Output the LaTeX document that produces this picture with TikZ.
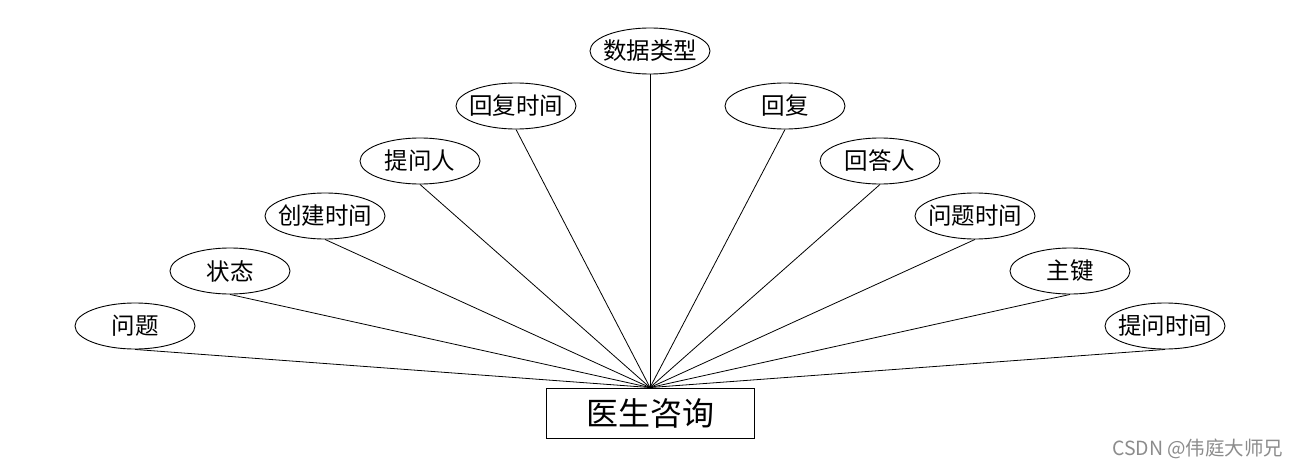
\documentclass[tikz,border=0pt]{standalone}
\usepackage{fontspec}
\setmainfont{Noto Sans CJK SC}
\usetikzlibrary{shapes.geometric}
\newcommand{\zlab}[1]{\makebox[0pt]{#1}}
\begin{document}
\begin{tikzpicture}[x=1pt,y=-1pt,
  attr/.style={draw,line width=0.9pt,ellipse,minimum width=120pt,minimum height=46pt,inner sep=0pt,font=\fontsize{23.5}{23.5}\selectfont},
  ent/.style={draw,line width=0.9pt,rectangle,minimum width=208pt,minimum height=50pt,inner sep=0pt,font=\fontsize{32}{32}\selectfont},
  link/.style={line width=0.8pt}]
\useasboundingbox (0,0) rectangle (1300,468);
\node[ent] (e) at (650,413) {医生咨询};
\node[attr] (a1) at (135,326) {\zlab{问题}};
\node[attr] (a2) at (230,271) {\zlab{状态}};
\node[attr] (a3) at (325,216) {\zlab{创建时间}};
\node[attr] (a4) at (420,161) {\zlab{提问人}};
\node[attr] (a5) at (516,106) {\zlab{回复时间}};
\node[attr] (a6) at (650,51) {\zlab{数据类型}};
\node[attr] (a7) at (785,106) {\zlab{回复}};
\node[attr] (a8) at (880,161) {\zlab{回答人}};
\node[attr] (a9) at (975,216) {\zlab{问题时间}};
\node[attr] (a10) at (1070,271) {\zlab{主键}};
\node[attr] (a11) at (1165,326) {\zlab{提问时间}};
\foreach \i in {1,...,11} \draw[link] (a\i.south) -- (e.north);
\node[text=black!45,font=\fontsize{19.5}{19.5}\selectfont,anchor=east] (wm) at (1287,449) {CSDN @伟庭大师兄};
\end{tikzpicture}
\end{document}
